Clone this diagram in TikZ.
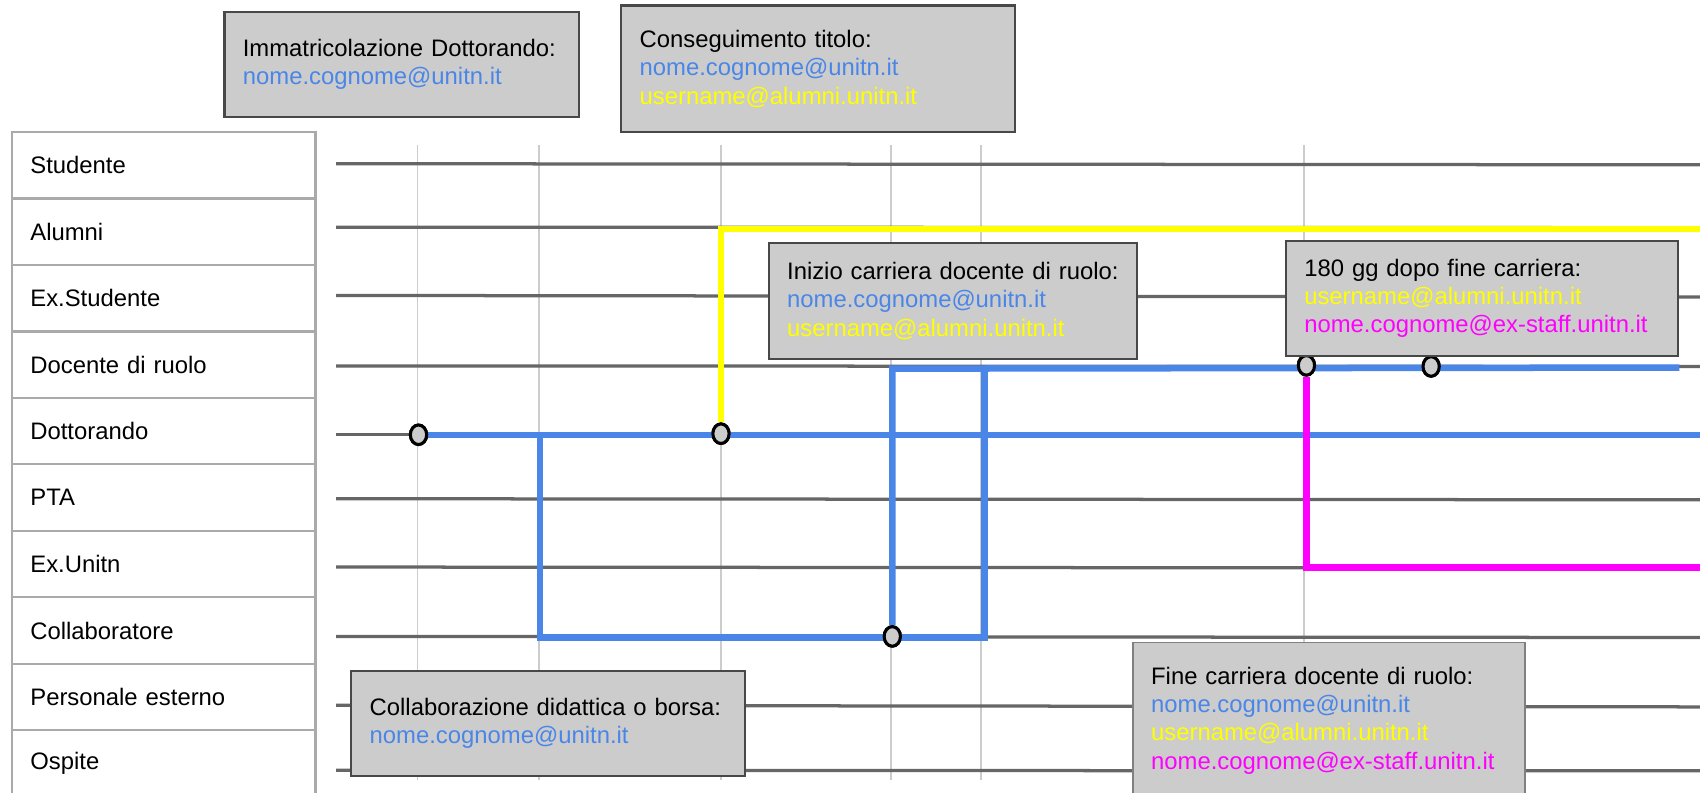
\documentclass[tikz,border=0pt]{standalone}
\usepackage{fontspec}
\setmainfont{Liberation Sans}
\usetikzlibrary{shapes.geometric}

\definecolor{docblue}{HTML}{4A86E8}
\definecolor{alumniyellow}{HTML}{FFFF00}
\definecolor{staffmagenta}{HTML}{FF00FF}
\definecolor{boxgray}{HTML}{CCCCCC}
\definecolor{boxline}{HTML}{484848}
\definecolor{lanegray}{HTML}{666666}
\definecolor{gridgray}{HTML}{CCCCCC}
\definecolor{cellgray}{HTML}{AAAAAA}

\begin{document}
\begin{tikzpicture}[x=1pt, y=-1pt,
      rolecell/.style={rectangle, draw=cellgray, line width=2pt, fill=white,
        anchor=north west, minimum width=280pt, minimum height=61.3pt,
        text width=246pt, inner xsep=17pt, align=left,
        font=\fontsize{22pt}{26pt}\selectfont},
      lane/.style={draw=lanegray, line width=3pt},
      guide/.style={draw=gridgray, line width=1.5pt},
      mailbox/.style={rectangle, draw=boxline, line width=2pt, fill=boxgray,
        anchor=north west, inner xsep=17pt, align=left,
        font=\fontsize{22pt}{26pt}\selectfont},
      bluepath/.style={draw=docblue, line width=6pt, line join=miter},
      yellowpath/.style={draw=alumniyellow, line width=6pt, line join=miter},
      magentapath/.style={draw=staffmagenta, line width=6pt, line join=miter},
      event/.style={ellipse, draw=black, line width=2.8pt, fill=boxgray,
        minimum width=15pt, minimum height=18pt, inner sep=0pt}]

    \useasboundingbox (0,0) rectangle (1568,731.4);

    \node[rolecell] (studente)    at (10,120.8) {Studente};
    \node[rolecell] (alumni)      at (10,182.1) {Alumni};
    \node[rolecell] (exstudente)  at (10,243.4) {Ex.Studente};
    \node[rolecell] (docente)     at (10,304.7) {Docente di ruolo};
    \node[rolecell] (dottorando)  at (10,366.0) {Dottorando};
    \node[rolecell] (pta)         at (10,427.3) {PTA};
    \node[rolecell] (exunitn)     at (10,488.6) {Ex.Unitn};
    \node[rolecell] (collab)      at (10,549.9) {Collaboratore};
    \node[rolecell] (esterno)     at (10,611.2) {Personale esterno};
    \node[rolecell] (ospite)      at (10,672.5) {Ospite};

    \draw[guide] (385,134) -- (385,719);
    \draw[guide] (497,134) -- (497,719);
    \draw[guide] (665,134) -- (665,719);
    \draw[guide] (822,134) -- (822,719);
    \draw[guide] (905,134) -- (905,719);
    \draw[guide] (1203,134) -- (1203,719);

    \draw[lane] (310,151)   -- (1568,152);
    \draw[lane] (310,209.5) -- (1568,210);
    \draw[lane] (310,272.5) -- (1568,274);
    \draw[lane] (310,337.5) -- (1568,338);
    \draw[lane] (310,401)   -- (1568,401);
    \draw[lane] (310,460)   -- (1568,461);
    \draw[lane] (310,523)   -- (1568,524);
    \draw[lane] (310,587)   -- (1568,588);
    \draw[lane] (310,650.5) -- (1568,652);
    \draw[lane] (310,710.5) -- (1568,711);

    \node[event] (e1) at (386,401) {};
    \node[event] (e2) at (665,400) {};
    \node[event] (e3) at (823,587) {};
    \node[event] (e4) at (1205,337) {};
    \node[event] (e5) at (1320,338) {};

    \coordinate (split)          at (498,401);
    \coordinate (collab-end)     at (908,588);
    \coordinate (docente-start)  at (823,340);
    \coordinate (docente-end)    at (1549,339);
    \coordinate (dottorando-end) at (1568,401);
    \coordinate (alumni-end)     at (1568,211);
    \coordinate (exunitn-end)    at (1568,523.5);

    \draw[bluepath]    (e1) -- (dottorando-end);
    \draw[bluepath]    (split) |- (collab-end) -- (collab-end |- docente-start);
    \draw[bluepath]    (e3) -- (docente-start) -- (docente-end);
    \draw[yellowpath]  (e2) |- (alumni-end);
    \draw[magentapath] (e4) |- (exunitn-end);

    \node[event] at (e1) {};
    \node[event] at (e2) {};
    \node[event] at (e3) {};
    \node[event] at (e4) {};
    \node[event] at (e5) {};

    \node[mailbox, text width=293pt, minimum height=97pt] (immatricolazione) at (206,10)
      {Immatricolazione Dottorando:\\ \textcolor{docblue}{nome.cognome@unitn.it}};
    \node[mailbox, text width=329pt, minimum height=117pt] (titolo) at (572,4)
      {Conseguimento titolo:\\ \textcolor{docblue}{nome.cognome@unitn.it}\\
       \textcolor{alumniyellow}{username@alumni.unitn.it}};
    \node[mailbox, text width=306pt, minimum height=107pt] (inizio) at (708,223)
      {Inizio carriera docente di ruolo:\\ \textcolor{docblue}{nome.cognome@unitn.it}\\
       \textcolor{alumniyellow}{username@alumni.unitn.it}};
    \node[mailbox, text width=328pt, minimum height=106pt] (dopo) at (1185,221)
      {180 gg dopo fine carriera:\\ \textcolor{alumniyellow}{username@alumni.unitn.it}\\
       \textcolor{staffmagenta}{nome.cognome@ex-staff.unitn.it}};
    \node[mailbox, text width=329pt, minimum height=97pt] (collaborazione) at (323,618)
      {Collaborazione didattica o borsa:\\ \textcolor{docblue}{nome.cognome@unitn.it}};
    \node[mailbox, draw=gray, line width=1.5pt, text width=328pt, minimum height=144pt] (fine) at (1044,592)
      {Fine carriera docente di ruolo:\\ \textcolor{docblue}{nome.cognome@unitn.it}\\
       \textcolor{alumniyellow}{username@alumni.unitn.it}\\
       \textcolor{staffmagenta}{nome.cognome@ex-staff.unitn.it}};

  \end{tikzpicture}
\end{document}
